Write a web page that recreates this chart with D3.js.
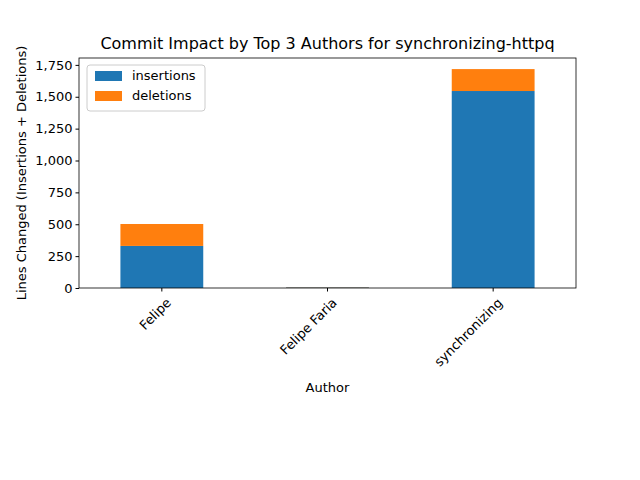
<!DOCTYPE html>
<html><head><meta charset="utf-8">
<script src="https://cdn.jsdelivr.net/npm/d3@7"></script>
<style>body{margin:0;background:#fff}text{font-family:"DejaVu Sans",sans-serif}</style>
</head><body><svg id="chart" width="640" height="480"></svg>
<script>
var authors = ['Felipe', 'Felipe Faria', 'synchronizing'];
var insertions = [330, 4, 1545];
var deletions = [172, 2, 172];
var yTicks = [0, 250, 500, 750, 1000, 1250, 1500, 1750];

var margin = {top: 58, left: 79, right: 64, bottom: 192};
var width = 640 - margin.left - margin.right, height = 480 - margin.top - margin.bottom;
var svg = d3.select('#chart');
var g = svg.append('g').attr('transform', 'translate(' + margin.left + ',' + margin.top + ')');

var x = d3.scaleBand().domain(authors).range([0, width]).paddingInner(0.5).paddingOuter(0.25);
var y = d3.scaleLinear().domain([0, 1804]).range([height, 0]);

var rows = authors.map((a, i) => ({author: a, insertions: insertions[i], deletions: deletions[i]}));
var stack = d3.stack().keys(['insertions', 'deletions'])(rows);
var colors = {insertions: '#1f77b4', deletions: '#ff7f0e'};

stack.forEach(layer => {
  g.selectAll('rect.' + layer.key).data(layer).join('rect')
    .attr('class', layer.key)
    .attr('x', d => x(d.data.author))
    .attr('width', x.bandwidth())
    .attr('y', d => y(d[1]))
    .attr('height', d => y(d[0]) - y(d[1]))
    .attr('fill', colors[layer.key]);
});

var xa = g.append('g').attr('transform', 'translate(0,' + height + ')')
  .call(d3.axisBottom(x).tickSize(3.5).tickSizeOuter(0));
xa.selectAll('text').attr('font-size', 13).attr('fill', '#000')
  .attr('text-anchor', 'end').attr('transform', 'rotate(-45)').attr('dx', '-0.3em').attr('dy', '0.9em');
var ya = g.append('g').call(d3.axisLeft(y).tickValues(yTicks).tickSize(3.5).tickSizeOuter(0));
ya.selectAll('text').attr('font-size', 13).attr('fill', '#000');
g.selectAll('.domain').remove();
g.append('rect').attr('width', width).attr('height', height).attr('fill', 'none').attr('stroke', '#000').attr('stroke-width', 0.8);

svg.append('text').attr('x', margin.left + width / 2).attr('y', 49).attr('text-anchor', 'middle')
  .attr('font-size', 16).text('Commit Impact by Top 3 Authors for synchronizing-httpq');
svg.append('text').attr('x', margin.left + width / 2).attr('y', 392).attr('text-anchor', 'middle')
  .attr('font-size', 13).text('Author');
svg.append('text').attr('transform', 'translate(26,' + (margin.top + height / 2) + ') rotate(-90)')
  .attr('text-anchor', 'middle').attr('font-size', 13).text('Lines Changed (Insertions + Deletions)');

var lg = svg.append('g').attr('transform', 'translate(87,65)');
lg.append('rect').attr('width', 118).attr('height', 46).attr('rx', 3).attr('fill', '#fff')
  .attr('stroke', '#ccc');
['insertions', 'deletions'].forEach((k, i) => {
  lg.append('rect').attr('x', 8).attr('y', 6 + i * 20).attr('width', 27).attr('height', 10).attr('fill', colors[k]);
  lg.append('text').attr('x', 45).attr('y', 15 + i * 20).attr('font-size', 13).text(k);
});
</script></body></html>
